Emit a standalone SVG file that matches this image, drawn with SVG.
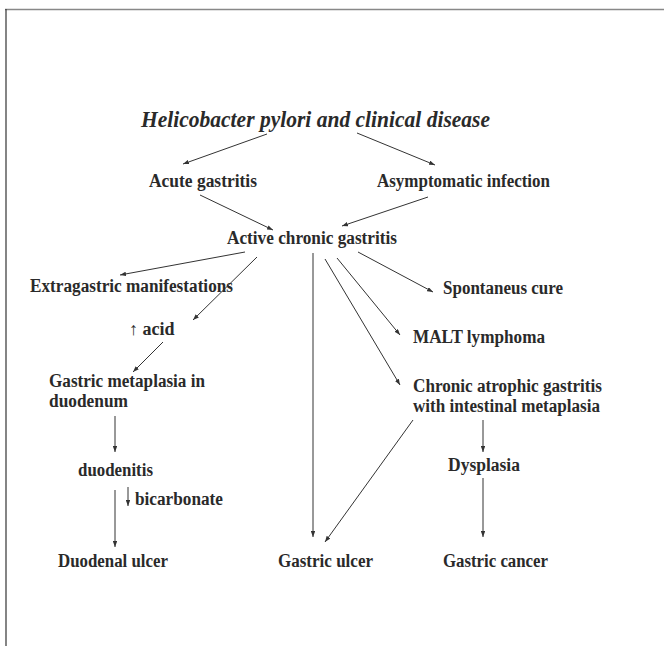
<svg xmlns="http://www.w3.org/2000/svg" width="664" height="646" viewBox="0 0 664 646">
  <defs>
    <marker id="arr" viewBox="0 0 8 6" refX="8" refY="3" markerWidth="6" markerHeight="4.5" orient="auto" markerUnits="userSpaceOnUse">
      <path d="M0,0 L8,3 L0,6 Z" fill="#333"/>
    </marker>
    <style>
      .lbl { font-family: "Liberation Serif", "Times New Roman", serif; font-weight: bold; font-size: 18px; fill: #2a2a2a; }
      .ttl { font-family: "Liberation Serif", "Times New Roman", serif; font-weight: bold; font-style: italic; font-size: 24px; fill: #2a2a2a; }
      .edge { stroke: #333; stroke-width: 1; fill: none; marker-end: url(#arr); }
    </style>
  </defs>

  <rect width="664" height="646" fill="#fff"/>
  <!-- frame -->
  <line x1="5" y1="9.5" x2="664" y2="9.5" stroke="#888" stroke-width="1.5"/>
  <line x1="6" y1="9" x2="6" y2="646" stroke="#333" stroke-width="1.2"/>

  <g id="title"><text class="ttl" x="141" y="127" textLength="349" lengthAdjust="spacingAndGlyphs">Helicobacter pylori and clinical disease</text></g>

  <g id="acute"><text class="lbl" x="149" y="187" textLength="108" lengthAdjust="spacingAndGlyphs">Acute gastritis</text></g>
  <g id="asymptomatic"><text class="lbl" x="377" y="187" textLength="173" lengthAdjust="spacingAndGlyphs">Asymptomatic infection</text></g>
  <g id="active"><text class="lbl" x="227" y="244" textLength="170" lengthAdjust="spacingAndGlyphs">Active chronic gastritis</text></g>
  <g id="extragastric"><text class="lbl" x="30" y="292" textLength="203" lengthAdjust="spacingAndGlyphs">Extragastric manifestations</text></g>
  <g id="acid"><text class="lbl" x="129" y="335"><tspan font-weight="normal">↑</tspan> acid</text></g>
  <g id="metaplasia"><text class="lbl" x="49" y="387" textLength="156" lengthAdjust="spacingAndGlyphs">Gastric metaplasia in</text><text class="lbl" x="49" y="407" textLength="79" lengthAdjust="spacingAndGlyphs">duodenum</text></g>
  <g id="duodenitis"><text class="lbl" x="78" y="476" textLength="75" lengthAdjust="spacingAndGlyphs">duodenitis</text></g>
  <g id="bicarbonate"><text class="lbl" x="135" y="505" textLength="88" lengthAdjust="spacingAndGlyphs">bicarbonate</text></g>
  <g id="duodenal-ulcer"><text class="lbl" x="58" y="567" textLength="110" lengthAdjust="spacingAndGlyphs">Duodenal ulcer</text></g>
  <g id="gastric-ulcer"><text class="lbl" x="278" y="567" textLength="95" lengthAdjust="spacingAndGlyphs">Gastric ulcer</text></g>
  <g id="spontaneus"><text class="lbl" x="443" y="294" textLength="120" lengthAdjust="spacingAndGlyphs">Spontaneus cure</text></g>
  <g id="malt"><text class="lbl" x="413" y="343" textLength="132" lengthAdjust="spacingAndGlyphs">MALT lymphoma</text></g>
  <g id="atrophic"><text class="lbl" x="413" y="392" textLength="189" lengthAdjust="spacingAndGlyphs">Chronic atrophic gastritis</text><text class="lbl" x="413" y="412" textLength="187" lengthAdjust="spacingAndGlyphs">with intestinal metaplasia</text></g>
  <g id="dysplasia"><text class="lbl" x="448" y="471" textLength="72" lengthAdjust="spacingAndGlyphs">Dysplasia</text></g>
  <g id="gastric-cancer"><text class="lbl" x="443" y="567" textLength="105" lengthAdjust="spacingAndGlyphs">Gastric cancer</text></g>

  <g id="connectors">
    <line class="edge" x1="267" y1="134" x2="183" y2="164"/>
    <line class="edge" x1="357" y1="133" x2="435" y2="165"/>
    <line class="edge" x1="200" y1="195" x2="273" y2="230"/>
    <line class="edge" x1="428" y1="197" x2="342" y2="226"/>
    <line class="edge" x1="245" y1="252" x2="120" y2="275"/>
    <line class="edge" x1="257" y1="257" x2="193" y2="320"/>
    <line class="edge" x1="163" y1="342" x2="133" y2="372"/>
    <line class="edge" x1="115" y1="416" x2="115" y2="452"/>
    <line class="edge" x1="115" y1="490" x2="115" y2="547"/>
    <line class="edge" x1="128" y1="487" x2="128" y2="506"/>
    <line class="edge" x1="313" y1="253" x2="313" y2="537"/>
    <line class="edge" x1="358" y1="252" x2="433" y2="292"/>
    <line class="edge" x1="337" y1="258" x2="400" y2="335"/>
    <line class="edge" x1="325" y1="259" x2="400" y2="385"/>
    <line class="edge" x1="413" y1="420" x2="325" y2="542"/>
    <line class="edge" x1="483" y1="420" x2="483" y2="452"/>
    <line class="edge" x1="483" y1="478" x2="483" y2="537"/>
  </g>
</svg>
